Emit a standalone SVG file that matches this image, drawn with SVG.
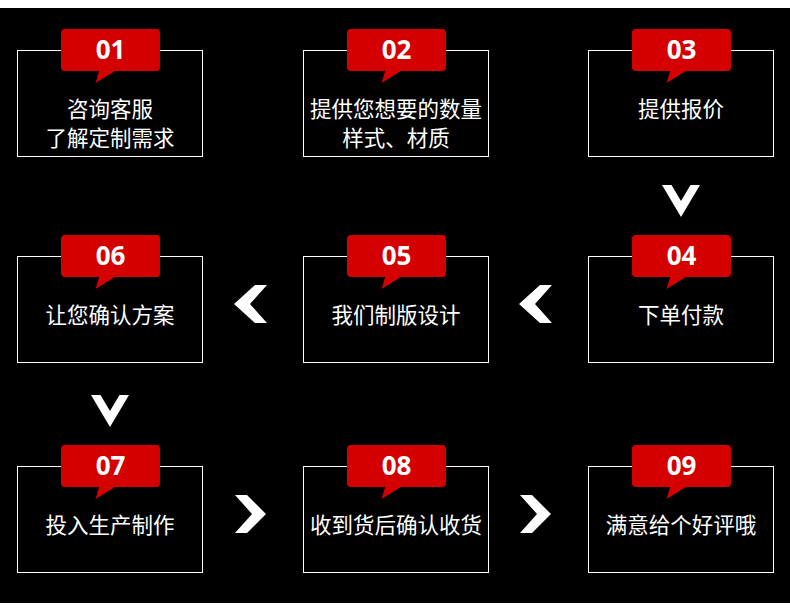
<svg xmlns="http://www.w3.org/2000/svg" width="790" height="614" viewBox="0 0 790 614">
<style>
.box{fill:none;stroke:#fff;stroke-width:1}
.tag{fill:#d40000}
.num{font-family:"Open Sans","Liberation Sans",sans-serif;font-weight:bold;font-size:26px;fill:#fff;text-anchor:middle}
.txt{font-family:"Noto Sans CJK SC","Noto Sans",sans-serif;font-size:21.5px;fill:#fff;text-anchor:middle}
.chev{fill:#fff}
</style>
<defs>
<g id="tagshape">
<rect x="-49.5" y="0" width="99" height="42" rx="4" class="tag"/>
<polygon points="-11,41 6,41 -15,54" class="tag"/>
</g>
</defs>
<rect x="0" y="0" width="790" height="614" fill="#fff"/>
<rect x="0" y="8" width="790" height="595" fill="#000"/>

<g id="connectors">
<polygon class="chev" points="662,185 671.5,185 681,201 690.5,185 700,185 681,217"/>
<polygon class="chev" points="234,304 255,285 267,285 250,304 267,323 255,323"/>
<polygon class="chev" points="519,304 540,285 552,285 535,304 552,323 540,323"/>
<polygon class="chev" points="91,395 100.5,395 110,411 119.5,395 129,395 110,427"/>
<polygon class="chev" points="235,495 247,495 266,514 247,533 235,533 252,514"/>
<polygon class="chev" points="520,495 532,495 551,514 532,533 520,533 537,514"/>
</g>

<g id="node01">
<rect class="box" x="17.5" y="50.5" width="185" height="106"/>
<use href="#tagshape" x="110.5" y="29"/>
<text class="num" x="110.5" y="58.5">01</text>
<text class="txt" x="110" y="116.5">咨询客服</text>
<text class="txt" x="110" y="146">了解定制需求</text>
</g>
<g id="node02">
<rect class="box" x="303.5" y="50.5" width="185" height="106"/>
<use href="#tagshape" x="396.5" y="29"/>
<text class="num" x="396.5" y="58.5">02</text>
<text class="txt" x="396" y="116.5">提供您想要的数量</text>
<text class="txt" x="396" y="146">样式、材质</text>
</g>
<g id="node03">
<rect class="box" x="588.5" y="50.5" width="185" height="106"/>
<use href="#tagshape" x="681.5" y="29"/>
<text class="num" x="681.5" y="58.5">03</text>
<text class="txt" x="681" y="116.5">提供报价</text>
</g>
<g id="node04">
<rect class="box" x="588.5" y="256.5" width="185" height="106"/>
<use href="#tagshape" x="681.5" y="235"/>
<text class="num" x="681.5" y="264.5">04</text>
<text class="txt" x="681" y="323">下单付款</text>
</g>
<g id="node05">
<rect class="box" x="303.5" y="256.5" width="185" height="106"/>
<use href="#tagshape" x="396.5" y="235"/>
<text class="num" x="396.5" y="264.5">05</text>
<text class="txt" x="396" y="323">我们制版设计</text>
</g>
<g id="node06">
<rect class="box" x="17.5" y="256.5" width="185" height="106"/>
<use href="#tagshape" x="110.5" y="235"/>
<text class="num" x="110.5" y="264.5">06</text>
<text class="txt" x="110" y="323">让您确认方案</text>
</g>
<g id="node07">
<rect class="box" x="17.5" y="466.5" width="185" height="106"/>
<use href="#tagshape" x="110.5" y="445"/>
<text class="num" x="110.5" y="474.5">07</text>
<text class="txt" x="110" y="533">投入生产制作</text>
</g>
<g id="node08">
<rect class="box" x="303.5" y="466.5" width="185" height="106"/>
<use href="#tagshape" x="396.5" y="445"/>
<text class="num" x="396.5" y="474.5">08</text>
<text class="txt" x="396" y="533">收到货后确认收货</text>
</g>
<g id="node09">
<rect class="box" x="588.5" y="466.5" width="185" height="106"/>
<use href="#tagshape" x="681.5" y="445"/>
<text class="num" x="681.5" y="474.5">09</text>
<text class="txt" x="681" y="533">满意给个好评哦</text>
</g>
</svg>
